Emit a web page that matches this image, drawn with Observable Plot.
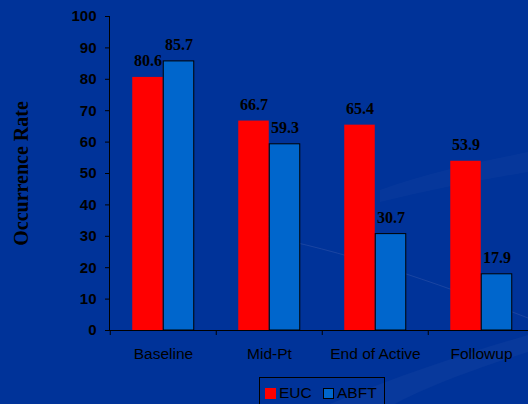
<!DOCTYPE html>
<html>
<head>
<meta charset="utf-8">
<script src="https://cdn.jsdelivr.net/npm/d3@7"></script>
<script src="https://cdn.jsdelivr.net/npm/@observablehq/plot@0.6"></script>
<style>
  html, body { margin: 0; padding: 0; width: 528px; height: 404px; overflow: hidden; background: #003399; }
  #wrap { position: relative; width: 528px; height: 404px; overflow: hidden; }
  #bg { position: absolute; left: 0; top: 0; }
  #chart { position: absolute; left: 0; top: 0; width: 535px; }
  #legend { position: absolute; left: 259px; top: 377px; width: 124px; height: 40px; border: 1px solid #000;
    font: 15.5px "Liberation Sans", Arial, sans-serif; color: #000; }
  .item { position: absolute; top: 6px; display: flex; align-items: center; }
  .sw { width: 11px; height: 11px; margin-right: 3px; box-sizing: border-box; }
</style>
</head>
<body>
<div id="wrap">
  <svg id="bg" width="528" height="404">
    <path d="M330,404 C400,375 470,352 528,335 L528,352 C470,370 420,390 395,404 Z" fill="#ffffff" opacity="0.03"/>
    <path d="M260,235 C340,250 430,280 528,318" fill="none" stroke="#3355aa" stroke-width="1" opacity="0.5"/>
    <path d="M380,190 C430,172 480,162 528,152 L528,172 C480,180 430,190 380,202 Z" fill="#ffffff" opacity="0.025"/>
  </svg>
  <div id="chart"></div>
  <div id="legend"></div>
</div>
<script>
const categories = ["Baseline", "Mid-Pt", "End of Active", "Followup"];
const series = ["EUC", "ABFT"];
const eucValues = [80.6, 66.7, 65.4, 53.9];
const abftValues = [85.7, 59.3, 30.7, 17.9];
const yTicks = [0, 10, 20, 30, 40, 50, 60, 70, 80, 90, 100];
const seriesColors = ["#ff0000", "#0066cc"];

const data = [];
categories.forEach((c, i) => {
  data.push({category: c, series: "EUC", value: eucValues[i]});
  data.push({category: c, series: "ABFT", value: abftValues[i]});
});

const barW = 31;
const step = 106.5;
const offsets = {EUC: -15.5, ABFT: 15.5};
const inset = (step - barW) / 2;

const sans = '"Liberation Sans", Arial, sans-serif';
const serif = '"Liberation Serif", "Times New Roman", serif';

const chart = Plot.plot({
  width: 535,
  height: 372,
  marginLeft: 109,
  marginRight: 0,
  marginTop: 16,
  marginBottom: 42,
  style: {background: "transparent", color: "#000", overflow: "visible", maxWidth: "none"},
  x: {domain: categories, padding: 0},
  y: {domain: [0, 100]},
  color: {domain: series, range: seriesColors},
  marks: [
    Plot.axisY({ticks: yTicks, tickSize: 4, tickPadding: 9, label: null,
      fontSize: 15, fontWeight: "bold", fontFamily: sans, stroke: "#000"}),
    Plot.axisX({tickSize: 0, tickPadding: 17, label: null, fontSize: 15.5, fontFamily: sans}),
    Plot.axisX({tickSize: 5, text: null, label: null, dx: -step / 2, stroke: "#000"}),
    Plot.frame({anchor: "left", stroke: "#000"}),
    Plot.frame({anchor: "bottom", stroke: "#000"}),
    ...series.map(s => Plot.barY(data.filter(d => d.series === s), {
      x: "category", y: "value", fill: "series",
      insetLeft: inset, insetRight: inset, dx: offsets[s],
      stroke: s === "ABFT" ? "#000" : null, strokeWidth: 1
    })),
    ...series.map(s => Plot.text(data.filter(d => d.series === s), {
      x: "category", y: "value", text: d => d.value.toFixed(1),
      dx: offsets[s], dy: -11, lineAnchor: "bottom",
      fontFamily: serif, fontWeight: "bold", fontSize: 16, fill: "#000"
    })),
    Plot.text(["Occurrence Rate"], {
      frameAnchor: "left", textAnchor: "middle", dx: -88, rotate: -90,
      fontFamily: serif, fontWeight: "bold", fontSize: 20, fill: "#000"
    })
  ]
});
document.getElementById("chart").appendChild(chart);

const legend = document.getElementById("legend");
const legendLefts = [5, 63];
series.forEach((s, i) => {
  const item = document.createElement("div");
  item.className = "item";
  item.style.left = legendLefts[i] + "px";
  const sw = document.createElement("div");
  sw.className = "sw";
  sw.style.background = seriesColors[i];
  if (s === "ABFT") sw.style.border = "1px solid #000";
  const t = document.createElement("span");
  t.textContent = s;
  item.appendChild(sw);
  item.appendChild(t);
  legend.appendChild(item);
});
</script>
</body>
</html>
